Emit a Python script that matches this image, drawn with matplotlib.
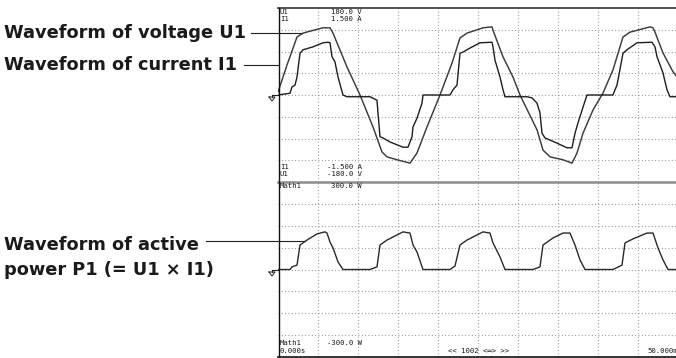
import matplotlib
matplotlib.use("Agg")
import matplotlib.pyplot as plt
from matplotlib.lines import Line2D

# ---------------- data ----------------
# time in ms, full sweep 0..50 ms
volt_t = [0, 1.125, 2.375, 3.125, 4.0, 5.625, 6.5, 6.875, 8.625, 10.25, 11.875, 13.0, 13.625,
          14.875, 16.5, 17.375, 18.625, 20.25, 21.75, 22.75, 23.625, 25.625, 26.75, 26.875,
          28.125, 29.375, 30.25, 32.375, 33.125, 34.0, 35.625, 36.75, 37.375, 38.125, 39.375,
          40.625, 41.875, 43.125, 44.0, 46.5, 46.875, 47.125, 48.125, 49.375, 50.0]
volt_v = [6, 62, 120, 128, 132, 139, 139, 128, 58, 0, -66, -118, -128,
          -134, -141, -120, -66, 0, 66, 118, 128, 139, 141, 134,
          79, 37, 0, -72, -114, -128, -134, -141, -120, -79, -31,
          4, 52, 120, 130, 141, 139, 130, 87, 48, 35]

curr_t = [0, 1.5, 1.75, 2.125, 2.375, 2.75, 3.125, 4.375, 5.625, 6.25, 6.5, 6.75, 7.125, 7.5,
          8.125, 8.625, 11.5, 12.375, 12.5, 12.75, 13.125, 14.0, 15.625, 16.25, 16.75, 16.875,
          17.375, 18.0, 18.125, 21.5, 21.875, 22.375, 22.75, 23.125, 24.0, 25.25, 26.75,
          26.875, 27.125, 27.75, 28.125, 28.375, 31.125, 31.75, 32.375, 32.75, 33.0, 33.375,
          34.875, 36.125, 36.75, 37.125, 37.5, 38.125, 38.625, 41.875, 42.125, 42.375, 43.125,
          43.625, 44.875, 46.75, 47.125, 47.375, 48.125, 48.625, 49.0, 50.0]
curr_a = [0, 0.03, 0.14, 0.17, 0.31, 0.72, 0.78, 0.83, 0.90, 0.91, 0.90, 0.66, 0.57, 0.31,
          0, -0.03, -0.03, -0.09, -0.31, -0.72, -0.74, -0.81, -0.90, -0.90, -0.72, -0.55,
          -0.40, -0.14, 0, 0, 0.09, 0.17, 0.72, 0.74, 0.81, 0.90, 0.91,
          0.83, 0.60, 0.31, 0.09, -0.03, -0.03, -0.05, -0.14, -0.31, -0.66, -0.74,
          -0.83, -0.91, -0.91, -0.66, -0.48, -0.21, 0, 0, 0.09, 0.17, 0.72,
          0.78, 0.90, 0.91, 0.83, 0.66, 0.38, 0.09, -0.03, -0.03]

pow_t = [0, 1.5, 1.75, 2.375, 2.75, 3.625, 4.875, 5.875, 6.125, 6.5, 6.875, 7.5, 8.125,
         11.5, 12.375, 12.75, 13.625, 15.625, 16.5, 16.875, 17.375, 18.125,
         21.5, 22.125, 22.75, 23.625, 25.625, 26.5, 26.875, 27.75, 28.375,
         31.875, 32.75, 33.125, 34.375, 35.625, 36.5, 37.125, 37.75, 38.375,
         41.875, 43.0, 43.375, 44.375, 46.125, 46.875, 47.5, 48.125, 48.75, 50.0]
pow_w = [0, 0, 9, 15, 84, 101, 122, 129, 125, 94, 74, 26, 0,
         0, 9, 84, 101, 129, 125, 84, 60, 0,
         0, 12, 84, 101, 129, 125, 91, 43, 0,
         0, 9, 84, 108, 125, 125, 84, 33, 0,
         0, 15, 91, 105, 125, 125, 74, 33, 0, 0]

volt_range = 180.0
curr_range = 1.5
pow_range = 300.0
t_end = 50.0

# ---------------- figure ----------------
W, H = 676, 358
fig = plt.figure(figsize=(W / 100, H / 100), dpi=100)
fig.patch.set_facecolor("white")

def frect(x0, y0, x1, y1):
    return [x0 / W, 1 - y1 / H, (x1 - x0) / W, (y1 - y0) / H]

ax_u = fig.add_axes(frect(278, 8, 678, 182))
ax_l = fig.add_axes(frect(278, 182, 678, 357))
ax_i = ax_u.twinx()

grid_kw = dict(color="#8a8a8a", lw=0.8, dashes=(0.8, 2.2))

for ax, rng in ((ax_u, volt_range), (ax_l, pow_range)):
    ax.set_xlim(0, t_end)
    ax.set_ylim(-rng, rng)
    ax.set_xticks([])
    ax.set_yticks([])
    for k in range(1, 10):
        ax.axvline(k * t_end / 10, **grid_kw)
    for k in range(1, 8):
        ax.axhline(-rng + k * rng / 4, **grid_kw)
    for s in ax.spines.values():
        s.set_visible(False)

ax_i.set_ylim(-curr_range, curr_range)
ax_i.set_yticks([])
for s in ax_i.spines.values():
    s.set_visible(False)

ax_u.plot(volt_t, volt_v, color="#3c3c3c", lw=1.05)
ax_i.plot(curr_t, curr_a, color="#1e1e1e", lw=1.0)
ax_l.plot(pow_t, pow_w, color="#2a2a2a", lw=1.0)

# frame lines (figure pixel coordinates)
def hline(x0, x1, y, **kw):
    fig.add_artist(Line2D([x0 / W, x1 / W], [1 - y / H, 1 - y / H], **kw))

def vline(x, y0, y1, **kw):
    fig.add_artist(Line2D([x / W, x / W], [1 - y0 / H, 1 - y1 / H], **kw))

hline(278, 676, 8.3, color="#444444", lw=1.3)
hline(278, 676, 182, color="#8c8c8c", lw=1.8)
hline(278, 676, 356.5, color="#111111", lw=1.2)
vline(278.5, 8, 357, color="#111111", lw=1.0)

# ground markers
for y0 in (95, 270):
    fig.add_artist(Line2D([272 / W, 278 / W], [1 - y0 / H, 1 - y0 / H],
                          color="#222222", lw=0.8))
    fig.add_artist(Line2D([272 / W, 272 / W], [1 - y0 / H, 1 - (y0 + 2) / H], color="#222222", lw=0.8))
    fig.add_artist(Line2D([269 / W, 275 / W, 272 / W, 269 / W],
                          [1 - (y0 + 2) / H, 1 - (y0 + 2) / H, 1 - (y0 + 6) / H, 1 - (y0 + 2) / H],
                          color="#222222", lw=0.7))

# small instrument text
mono = dict(family="DejaVu Sans Mono", fontsize=5.2, color="#1a1a1a")

def small(x, y, s, ha="left"):
    fig.text(x / W, 1 - y / H, s, ha=ha, va="center", **mono)

small(280, 12, "U1")
small(280, 19, "I1")
small(362, 12, "180.0 V", ha="right")
small(362, 19, "1.500 A", ha="right")
small(280, 167, "I1")
small(280, 174, "U1")
small(362, 167, "-1.500 A", ha="right")
small(362, 174, "-180.0 V", ha="right")
small(280, 186, "Math1")
small(362, 186, "300.0 W", ha="right")
small(280, 343, "Math1")
small(362, 343, "-300.0 W", ha="right")
small(280, 351, "0.000s")
small(448, 351, "<< 1002 <═> >>")
small(647, 351, "50.000ms")

# annotations
lab = dict(family="DejaVu Sans", fontweight="bold", fontsize=12.8, color="#1a1a1a")

def label(x, y, s):
    fig.text(x / W, 1 - y / H, s, ha="left", va="baseline", **lab)

label(4, 38, "Waveform of voltage U1")
label(4, 70, "Waveform of current I1")
label(4, 250, "Waveform of active")
label(4, 275, "power P1 (= U1 \u00d7 I1)")

hline(251, 302, 33, color="#222222", lw=0.8)
hline(244, 279, 65, color="#222222", lw=0.8)
hline(206, 305, 241, color="#222222", lw=0.8)

fig.savefig("out.png", dpi=100, facecolor="white")
